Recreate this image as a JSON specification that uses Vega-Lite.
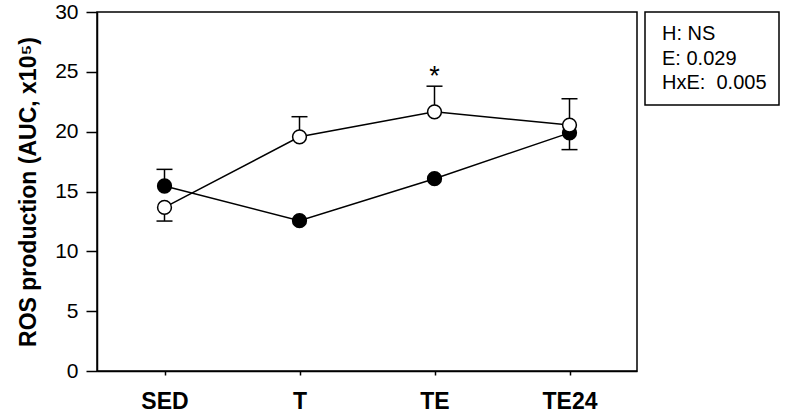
{
  "$schema": "https://vega.github.io/schema/vega-lite/v6.json",
  "background": "white",
  "padding": {"left": 16, "top": 0, "right": 2, "bottom": 5},
  "bounds": "flush",
  "spacing": 8,
  "config": {
    "font": "Liberation Sans",
    "view": {"stroke": "black", "strokeWidth": 1.5},
    "axis": {"grid": false, "domainColor": "black", "domainWidth": 1.5, "tickColor": "black", "tickWidth": 1.5, "labelColor": "black", "titleColor": "black"},
    "axisX": {"labelAngle": 0, "labelFontSize": 23, "labelFontWeight": "bold", "tickSize": 4, "labelPadding": 15, "title": null},
    "axisY": {"labelFontSize": 21, "tickSize": 11, "labelPadding": 8, "titleFontSize": 23, "titleFontWeight": "bold", "titlePadding": 14, "values": [0, 5, 10, 15, 20, 25, 30]}
  },
  "datasets": {
    "means": [
      {"time": "SED", "group": "filled", "value": 15.46},
      {"time": "T", "group": "filled", "value": 12.56},
      {"time": "TE", "group": "filled", "value": 16.07},
      {"time": "TE24", "group": "filled", "value": 19.9},
      {"time": "SED", "group": "open", "value": 13.67},
      {"time": "T", "group": "open", "value": 19.57},
      {"time": "TE", "group": "open", "value": 21.66},
      {"time": "TE24", "group": "open", "value": 20.55}
    ],
    "errs": [
      {"time": "SED", "group": "filled", "mean": 15.46, "cap": 16.85},
      {"time": "TE24", "group": "filled", "mean": 19.9, "cap": 18.5},
      {"time": "SED", "group": "open", "mean": 13.67, "cap": 12.53},
      {"time": "T", "group": "open", "mean": 19.57, "cap": 21.25},
      {"time": "TE", "group": "open", "mean": 21.66, "cap": 23.8},
      {"time": "TE24", "group": "open", "mean": 20.55, "cap": 22.75}
    ],
    "marks": [
      {"time": "TE", "value": 23.9, "label": "*"}
    ],
    "stats": [
      {"box": "stats", "row": 1, "label": "H: NS"},
      {"box": "stats", "row": 2, "label": "E: 0.029"},
      {"box": "stats", "row": 3, "label": "HxE:\u00a0 0.005"}
    ]
  },
  "hconcat": [
    {
      "width": 540,
      "height": 359,
      "layer": [
        {
          "data": {"name": "errs"},
          "mark": {"type": "rule", "color": "black", "strokeWidth": 1.5},
          "encoding": {
            "x": {"field": "time", "type": "ordinal", "sort": ["SED", "T", "TE", "TE24"], "scale": {"type": "point", "padding": 0.5}},
            "y": {"field": "mean", "type": "quantitative", "scale": {"domain": [0, 30], "nice": false}, "title": "ROS production (AUC, x10⁵)"},
            "y2": {"field": "cap"}
          }
        },
        {
          "data": {"name": "errs"},
          "mark": {"type": "tick", "orient": "horizontal", "color": "black", "size": 16, "thickness": 1.5, "opacity": 1},
          "encoding": {
            "x": {"field": "time", "type": "ordinal", "sort": ["SED", "T", "TE", "TE24"]},
            "y": {"field": "cap", "type": "quantitative", "title": "ROS production (AUC, x10⁵)"}
          }
        },
        {
          "data": {"name": "means"},
          "mark": {"type": "line", "color": "black", "strokeWidth": 1.5},
          "encoding": {
            "x": {"field": "time", "type": "ordinal", "sort": ["SED", "T", "TE", "TE24"]},
            "y": {"field": "value", "type": "quantitative", "title": "ROS production (AUC, x10⁵)"},
            "detail": {"field": "group"}
          }
        },
        {
          "data": {"name": "means"},
          "mark": {"type": "point", "shape": "circle", "filled": true, "size": 190, "stroke": "black", "strokeWidth": 1.5, "opacity": 1},
          "encoding": {
            "x": {"field": "time", "type": "ordinal", "sort": ["SED", "T", "TE", "TE24"]},
            "y": {"field": "value", "type": "quantitative", "title": "ROS production (AUC, x10⁵)"},
            "fill": {"field": "group", "type": "nominal", "scale": {"domain": ["filled", "open"], "range": ["black", "white"]}, "legend": null}
          }
        },
        {
          "data": {"name": "marks"},
          "mark": {"type": "text", "fontSize": 27, "baseline": "alphabetic", "color": "black"},
          "encoding": {
            "x": {"field": "time", "type": "ordinal", "sort": ["SED", "T", "TE", "TE24"]},
            "y": {"field": "value", "type": "quantitative", "title": "ROS production (AUC, x10⁵)"},
            "text": {"field": "label"}
          }
        }
      ]
    },
    {
      "width": 134,
      "height": 93,
      "data": {"name": "stats"},
      "mark": {"type": "text", "align": "left", "baseline": "middle", "fontSize": 20, "color": "black"},
      "encoding": {
        "x": {"field": "box", "type": "nominal", "bandPosition": 0, "scale": {"type": "band", "paddingOuter": 0.17, "paddingInner": 0}, "axis": null},
        "y": {"field": "row", "type": "ordinal", "scale": {"type": "point", "padding": 0.9}, "axis": null},
        "text": {"field": "label"}
      }
    }
  ]
}
